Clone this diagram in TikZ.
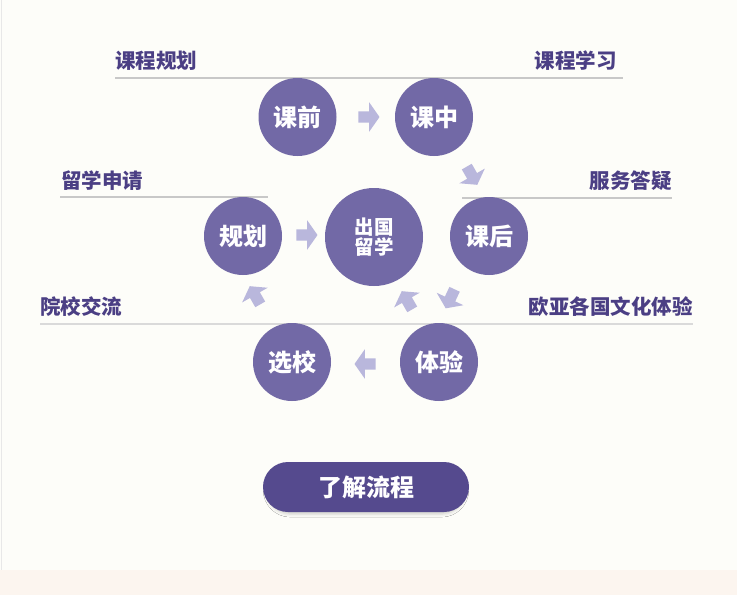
\documentclass[tikz,border=0pt]{standalone}
\usepackage{fontspec}
\setmainfont{Noto Sans CJK SC}
\newfontfamily\heavy{Noto Sans CJK SC Black}
\usetikzlibrary{shapes.arrows,shadows.blur}
\definecolor{bgc}{RGB}{253,253,249}
\definecolor{bandc}{RGB}{252,245,239}
\definecolor{circc}{RGB}{114,105,166}
\definecolor{labc}{RGB}{75,63,132}
\definecolor{btnc}{RGB}{85,74,142}
\definecolor{arrc}{RGB}{185,183,220}
\definecolor{linec}{RGB}{200,200,200}
\tikzset{
  stage/.style={circle, fill=circc, minimum size=78pt, inner sep=0pt, text=white, font=\fontsize{24}{24}\selectfont\heavy},
  hub/.style={circle, fill=circc, minimum size=98pt, inner sep=0pt, text=white, align=center, font=\fontsize{19.5}{20.5}\selectfont\heavy},
  lab/.style={inner sep=0pt, text=labc, font=\fontsize{20.5}{20.5}\selectfont\heavy},
  rule/.style={draw=linec, line width=1.2pt},
  flow/.style={single arrow, fill=arrc, draw=none, inner xsep=0pt, inner ysep=5.5pt, minimum height=21pt, single arrow head extend=9pt, single arrow tip angle=110},
  btn/.style={rounded corners=25pt, fill=btnc, minimum width=206pt, minimum height=50pt, inner sep=0pt, text=white, font=\fontsize{24}{24}\selectfont\heavy, blur shadow={shadow xshift=0pt, shadow yshift=-3pt, shadow scale=0.97, shadow blur radius=3pt, shadow opacity=18}}
}
\begin{document}
\begin{tikzpicture}[x=1pt,y=-1pt]
\useasboundingbox (0,0) rectangle (737,595);
\fill[bgc] (0,0) rectangle (737,595);
\fill[bandc] (0,570) rectangle (737,595);
\draw[draw={rgb,255:red,232;green,232;blue,232}, line width=1pt] (1,0) -- (1,570);
% guide lines
\draw[rule] (115,78) -- (623,78);
\draw[rule] (60,197) -- (268,197);
\draw[rule] (462,198) -- (672,198);
\draw[rule, draw={rgb,255:red,218;green,218;blue,218}, line width=1.8pt] (40,324) -- (693,324);
% labels
\node[lab, anchor=west] (l1) at (115,61) {课程规划};
\node[lab, anchor=east] (l2) at (617,61) {课程学习};
\node[lab, anchor=west] (l3) at (61,181) {留学申请};
\node[lab, anchor=east] (l4) at (672,181) {服务答疑};
\node[lab, anchor=west] (l5) at (40,307) {院校交流};
\node[lab, anchor=east] (l6) at (693,307) {欧亚各国文化体验};
% stages
\node[stage] (kq) at (297.5,117) {课前};
\node[stage] (kz) at (434,117) {课中};
\node[stage] (gh) at (243,236) {规划};
\node[hub] (hub) at (374,237) {出国\\留学};
\node[stage] (kh) at (489,236) {课后};
\node[stage] (xx) at (292,362) {选校};
\node[stage] (ty) at (439,362) {体验};
% flow arrows
\node[flow] (a1) at (367,117) {};
\node[flow, rotate=-60] (a2) at (471,174) {};
\node[flow] (a3) at (305,235) {};
\node[flow, rotate=-115] (a4) at (451,297) {};
\node[flow, rotate=120] (a5) at (408,302) {};
\node[flow, rotate=120] (a6) at (256,297) {};
\node[flow, rotate=180] (a7) at (367,364) {};
% button
\node[btn] (btn) at (366,487) {了解流程};
\end{tikzpicture}
\end{document}
